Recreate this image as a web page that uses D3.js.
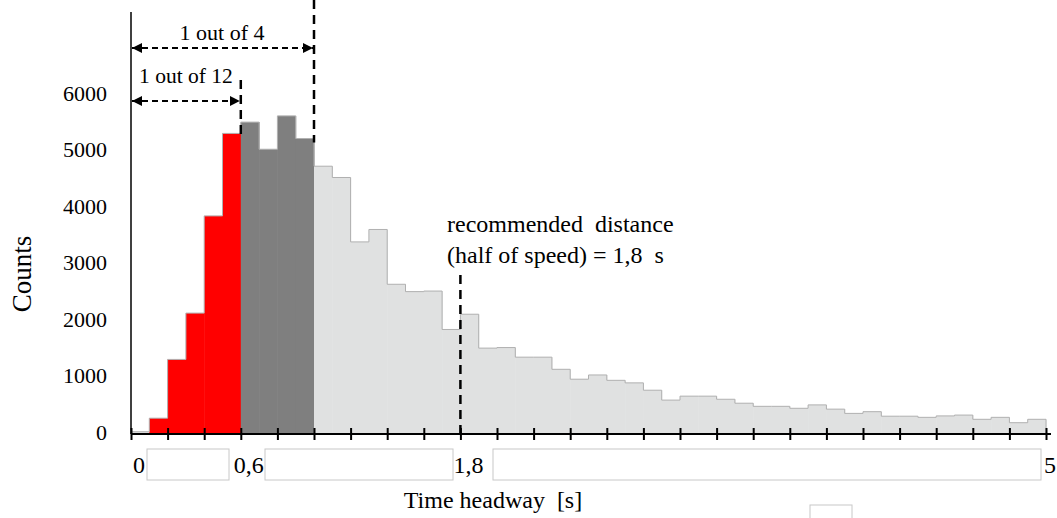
<!DOCTYPE html>
<html>
<head>
<meta charset="utf-8">
<script src="https://cdn.jsdelivr.net/npm/d3@7"></script>
<style>
  body { margin: 0; background: #fff; }
  svg { display: block; font-family: "Liberation Serif", "Times New Roman", serif; }
</style>
</head>
<body>
<div id="chart"></div>
<script>
// histogram bins of 0.1 s, from 0 to 5 s
const binStarts = d3.range(0, 50).map(i => +(i * 0.1).toFixed(1));
const counts = [
  40, 280, 1320, 2140, 3860, 5320, 5520, 5040, 5630, 5230,
  4740, 4540, 3400, 3620, 2650, 2520, 2530, 1850, 2120, 1520,
  1530, 1360, 1360, 1145, 970, 1045, 950, 905, 775, 600,
  670, 670, 615, 545, 490, 490, 455, 515, 440, 365,
  395, 315, 315, 295, 320, 335, 260, 295, 200, 260
];
const binWidth = 0.1;
const redRange = [0.1, 0.6];
const grayRange = [0.6, 1.0];
const yTicks = [0, 1000, 2000, 3000, 4000, 5000, 6000];
const xTicks = d3.range(0, 26).map(i => +(i * 0.2).toFixed(1));
const xLabels = [0, 0.6, 1.8, 5];
const recommended = 1.8;

const config = {
  width: 1057,
  height: 518,
  x0: 131, x1: 1046,
  yBottom: 434, yTop: 95
};

const svg = d3.select("#chart")
  .append("svg")
  .attr("width", config.width)
  .attr("height", config.height);

const xScale = d3.scaleLinear()
  .domain([0, 5])
  .range([config.x0, config.x1]);

const yScale = d3.scaleLinear()
  .domain([0, 6000])
  .range([config.yBottom, config.yTop]);

const data = binStarts.map((s, i) => ({ start: s, end: +(s + binWidth).toFixed(1), count: counts[i] }));

const fillFor = d => {
  if (d.start >= redRange[0] && d.end <= redRange[1]) return "#ff0000";
  if (d.start >= grayRange[0] && d.end <= grayRange[1]) return "#7f7f7f";
  return "#e0e1e1";
};

// bars
svg.append("g")
  .selectAll("rect")
  .data(data)
  .enter().append("rect")
  .attr("x", d => xScale(d.start))
  .attr("width", d => xScale(d.end) - xScale(d.start) + 0.5)
  .attr("y", d => yScale(d.count))
  .attr("height", d => yScale(0) - yScale(d.count))
  .style("fill", fillFor);

// step outline along bar tops
const stepPts = [[0, 0]];
data.forEach(d => { stepPts.push([d.start, d.count]); });
stepPts.push([5, counts[counts.length - 1]]);
stepPts.push([5, 0]);
svg.append("path")
  .attr("d", d3.line()
    .x(d => xScale(d[0]))
    .y(d => yScale(d[1]))
    .curve(d3.curveStepAfter)(stepPts))
  .style("fill", "none")
  .style("stroke", "#b0b0b0")
  .style("stroke-width", 1);

// x axis
const xAxis = svg.append("g")
  .attr("transform", "translate(0," + config.yBottom + ")")
  .call(d3.axisBottom(xScale).tickValues(xTicks).tickSize(6).tickFormat(""));
xAxis.select(".domain").remove();
xAxis.selectAll(".tick line")
  .attr("y1", -6).attr("y2", 6)
  .style("stroke", "#000")
  .style("stroke-width", 2);
svg.append("line")
  .attr("x1", xScale(0)).attr("x2", xScale(5) + 5)
  .attr("y1", config.yBottom).attr("y2", config.yBottom)
  .style("stroke", "#000").style("stroke-width", 2);

// y axis line
svg.append("line")
  .attr("x1", config.x0).attr("x2", config.x0)
  .attr("y1", 12).attr("y2", config.yBottom)
  .style("stroke", "#000").style("stroke-width", 1.5);

// y tick labels
svg.append("g")
  .selectAll("text")
  .data(yTicks)
  .enter().append("text")
  .attr("x", 107)
  .attr("y", d => yScale(d) - 2)
  .attr("dy", "0.35em")
  .attr("text-anchor", "end")
  .style("font-size", "22px")
  .text(d => d);

// white cover boxes under the axis
const boxes = [[147, 449, 82, 31], [265, 449, 188, 31], [493, 449, 548, 31], [810, 505, 42, 14]];
svg.append("g")
  .selectAll("rect")
  .data(boxes)
  .enter().append("rect")
  .attr("x", d => d[0]).attr("y", d => d[1])
  .attr("width", d => d[2]).attr("height", d => d[3])
  .style("fill", "#fff")
  .style("stroke", "#c8c8c8")
  .style("stroke-width", 1);

// x tick labels
svg.append("g")
  .selectAll("text")
  .data(xLabels)
  .enter().append("text")
  .attr("x", d => Math.min(xScale(d) + 8, config.width - 7))
  .attr("y", 473)
  .attr("text-anchor", "middle")
  .style("font-size", "24px")
  .text(d => String(d).replace(".", ","));

// axis titles
svg.append("text")
  .attr("x", 493)
  .attr("y", 508)
  .attr("text-anchor", "middle")
  .style("font-size", "24px")
  .style("white-space", "pre")
  .text("Time headway  [s]");

svg.append("text")
  .attr("transform", "translate(31,274) rotate(-90)")
  .attr("text-anchor", "middle")
  .style("font-size", "27px")
  .text("Counts");

// annotations
const defs = svg.append("defs");
["start", "end"].forEach(k => {
  defs.append("marker")
    .attr("id", "arrow-" + k)
    .attr("viewBox", "0 0 10 10")
    .attr("refX", k === "end" ? 10 : 0)
    .attr("refY", 5)
    .attr("markerWidth", 10)
    .attr("markerHeight", 10)
    .attr("markerUnits", "userSpaceOnUse")
    .attr("orient", "auto")
    .append("path")
    .attr("d", k === "end" ? "M0,0 L10,5 L0,10 Z" : "M10,0 L0,5 L10,10 Z")
    .style("fill", "#000");
});

const spans = [
  { from: 0, to: grayRange[1], y: 48, label: "1 out of 4", lx: 222, ly: 40, size: 22, topY: 0, bin: 9 },
  { from: 0, to: redRange[1], y: 101, label: "1 out of 12", lx: 186, ly: 83, size: 21.5, topY: 80, bin: 5 }
];

spans.forEach(s => {
  svg.append("line")
    .attr("x1", xScale(s.from) + 1).attr("x2", xScale(s.to) - 1)
    .attr("y1", s.y).attr("y2", s.y)
    .attr("marker-start", "url(#arrow-start)")
    .attr("marker-end", "url(#arrow-end)")
    .style("stroke", "#000")
    .style("stroke-width", 2)
    .style("stroke-dasharray", "6,4");
  svg.append("line")
    .attr("x1", xScale(s.to)).attr("x2", xScale(s.to))
    .attr("y1", s.topY).attr("y2", yScale(counts[s.bin]) + 4)
    .style("stroke", "#000")
    .style("stroke-width", 2.5)
    .style("stroke-dasharray", "9,6");
  svg.append("text")
    .attr("x", s.lx).attr("y", s.ly)
    .attr("text-anchor", "middle")
    .style("font-size", s.size + "px")
    .text(s.label);
});

svg.append("line")
  .attr("x1", xScale(recommended)).attr("x2", xScale(recommended))
  .attr("y1", 275).attr("y2", config.yBottom)
  .style("stroke", "#000")
  .style("stroke-width", 2.5)
  .style("stroke-dasharray", "9,6");

svg.append("text")
  .attr("x", 447).attr("y", 232)
  .style("font-size", "24px")
  .style("white-space", "pre")
  .text("recommended  distance");
svg.append("text")
  .attr("x", 447).attr("y", 263)
  .style("font-size", "24px")
  .style("white-space", "pre")
  .text("(half of speed) = 1,8  s");
</script>
</body>
</html>
